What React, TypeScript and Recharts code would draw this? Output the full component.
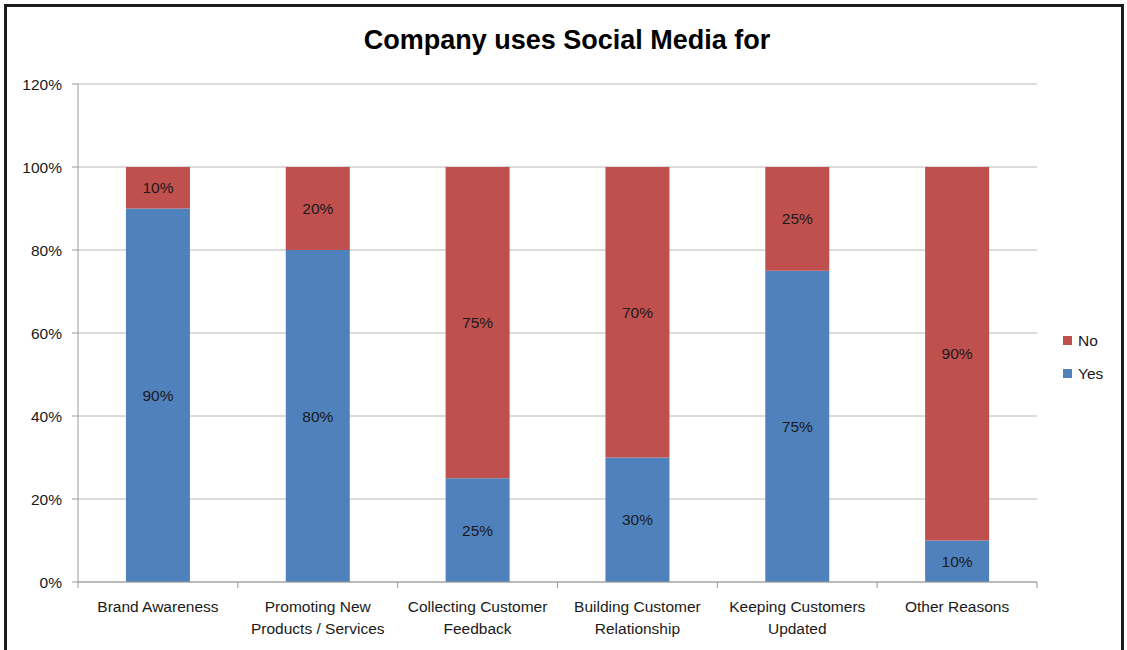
import React from "react";
import { BarChart, Bar, XAxis, YAxis, CartesianGrid, Legend, LabelList } from "recharts";

const categories = [
  "Brand Awareness",
  "Promoting New\nProducts / Services",
  "Collecting Customer\nFeedback",
  "Building Customer\nRelationship",
  "Keeping Customers\nUpdated",
  "Other Reasons",
];
const yesValues = [90, 80, 25, 30, 75, 10];
const noValues = [10, 20, 75, 70, 25, 90];
const yTicks = [0, 20, 40, 60, 80, 100, 120];

const data = categories.map((c, i) => ({ name: c, Yes: yesValues[i], No: noValues[i] }));

const FONT = "'Liberation Sans', Arial, sans-serif";
const BLUE = "#4F81BD";
const RED = "#C0504D";
const AXIS = "#9a9a9a";
const PLOT_W = 959;

const XTick = (props: any) => {
  const { x, y, payload, index, visibleTicksCount } = props;
  const band = PLOT_W / categories.length;
  const lines = String(payload.value).split("\n");
  const isLast = index === (visibleTicksCount ?? categories.length) - 1;
  return (
    <g>
      <line x1={x - band / 2} x2={x - band / 2} y1={y - 8} y2={y - 2} stroke={AXIS} />
      {isLast && <line x1={x + band / 2} x2={x + band / 2} y1={y - 8} y2={y - 2} stroke={AXIS} />}
      <text x={x} y={y + 22} textAnchor="middle" fontSize={15.5} fill="#1a1a1a" fontFamily={FONT}>
        {lines.map((l, i) => (
          <tspan key={i} x={x} dy={i === 0 ? 0 : 22}>
            {l}
          </tspan>
        ))}
      </text>
    </g>
  );
};

const LegendContent = () => (
  <div style={{ fontFamily: FONT, fontSize: 15.5, color: "#1a1a1a" }}>
    {[
      { label: "No", color: RED },
      { label: "Yes", color: BLUE },
    ].map((it) => (
      <div key={it.label} style={{ display: "flex", alignItems: "center", height: 33 }}>
        <span style={{ width: 9, height: 9, background: it.color, display: "inline-block", marginRight: 6 }} />
        <span>{it.label}</span>
      </div>
    ))}
  </div>
);

export default function App() {
  return (
    <div style={{ position: "absolute", left: 0, top: 0, width: 1127, height: 650, background: "#fff", overflow: "hidden" }}>
      <div
        style={{
          position: "absolute",
          left: 4,
          top: 4,
          width: 1114,
          height: 670,
          border: "3px solid #1c1c1c",
        }}
      />
      <div
        style={{
          position: "absolute",
          left: 0,
          width: 1134,
          top: 25,
          textAlign: "center",
          fontFamily: FONT,
          fontWeight: "bold",
          fontSize: 27,
          color: "#000",
        }}
      >
        Company uses Social Media for
      </div>
      <div style={{ position: "absolute", left: 0, top: 0 }}>
        <BarChart
          width={1127}
          height={650}
          data={data}
          margin={{ top: 84, right: 30, bottom: 0, left: 0 }}
          barCategoryGap="30%"
        >
          <CartesianGrid vertical={false} stroke="#b8b8b8" />
          <XAxis
            dataKey="name"
            height={68}
            tick={<XTick />}
            tickLine={false}
            axisLine={{ stroke: AXIS }}
            interval={0}
          />
          <YAxis
            width={78}
            domain={[0, 120]}
            ticks={yTicks}
            tickFormatter={(v: number) => `${v}%`}
            tick={{ fontSize: 15.5, fill: "#1a1a1a", fontFamily: FONT }}
            tickLine={{ stroke: AXIS }}
            tickSize={6}
            tickMargin={10}
            axisLine={{ stroke: AXIS }}
          />
          <Legend
            layout="horizontal"
            verticalAlign="middle"
            align="right"
            content={<LegendContent />}
            wrapperStyle={{ position: "absolute", left: 1063, top: 324, width: 60 }}
          />
          <Bar dataKey="Yes" stackId="a" fill={BLUE} isAnimationActive={false}>
            <LabelList dataKey="Yes" position="center" formatter={(v: any) => `${v}%`} fill="#1a1a1a" fontSize={15.5} fontFamily={FONT} />
          </Bar>
          <Bar dataKey="No" stackId="a" fill={RED} isAnimationActive={false}>
            <LabelList dataKey="No" position="center" formatter={(v: any) => `${v}%`} fill="#1a1a1a" fontSize={15.5} fontFamily={FONT} />
          </Bar>
        </BarChart>
      </div>
    </div>
  );
}
